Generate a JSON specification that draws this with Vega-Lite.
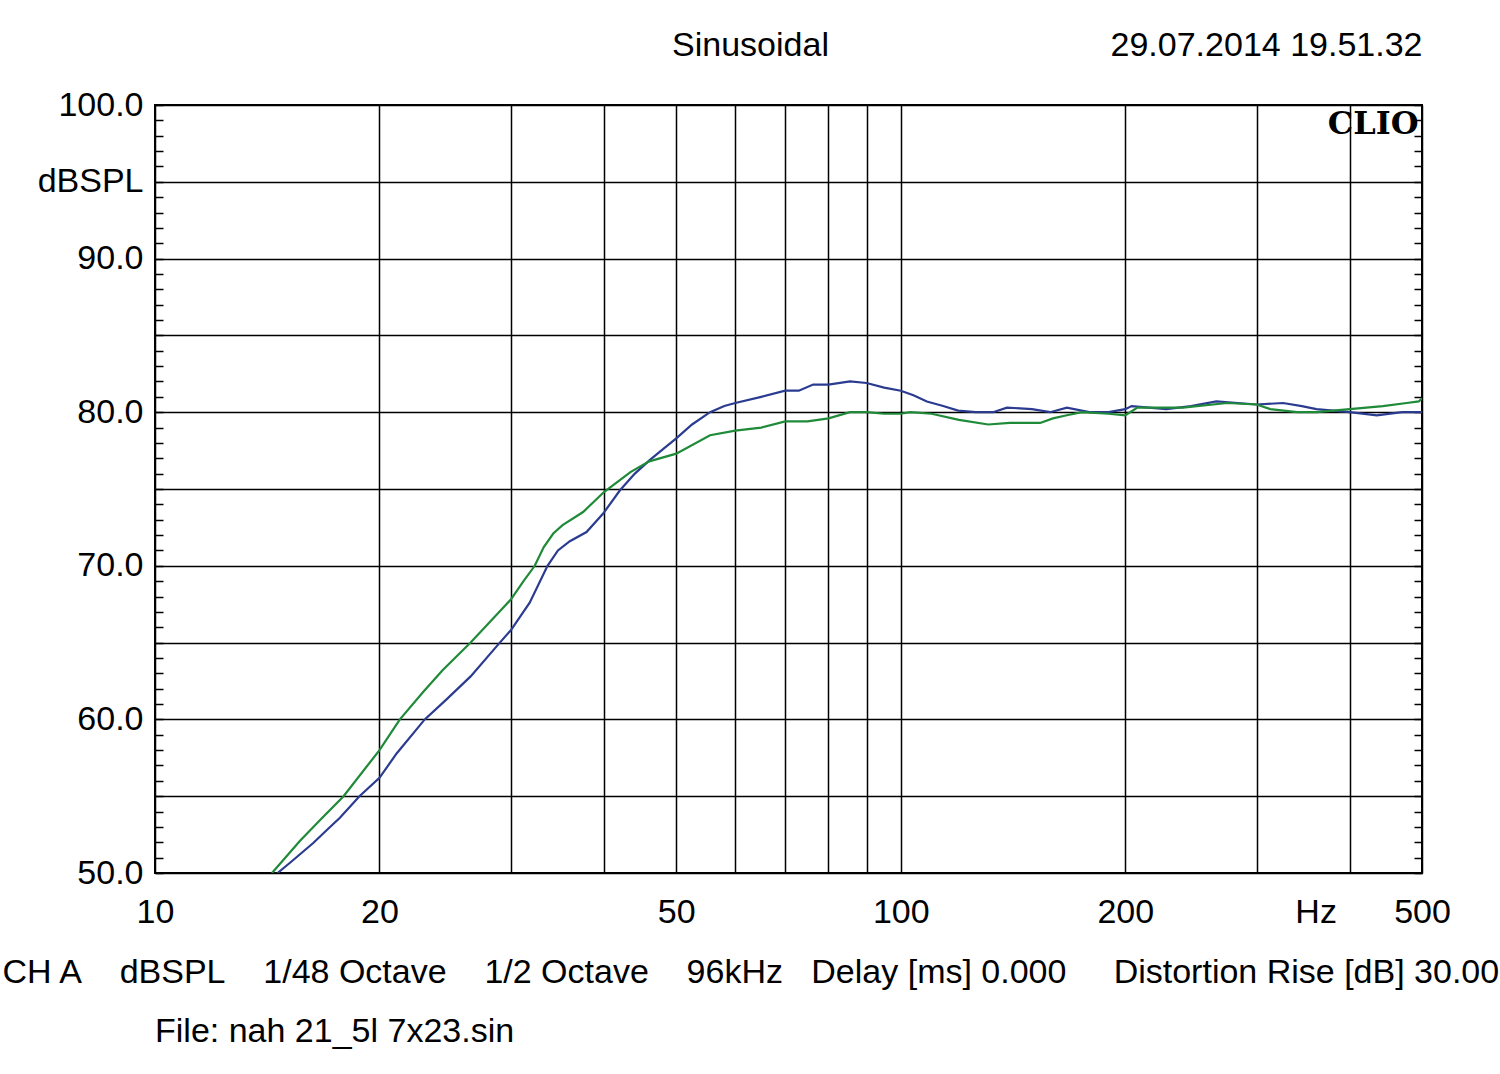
{
  "$schema": "https://vega.github.io/schema/vega-lite/v6.json",
  "width": 1267,
  "height": 768,
  "autosize": {"type": "none"},
  "padding": {"left": 155, "top": 105, "right": 78, "bottom": 201},
  "background": "white",
  "config": {
    "view": {"stroke": "black", "strokeWidth": 2},
    "font": "Liberation Sans",
    "axis": {"labelColor": "black", "titleColor": "black", "labelFont": "Liberation Sans", "titleFont": "Liberation Sans", "titleFontWeight": "normal"}
  },
  "title": {"text": "File: nah 21_5l 7x23.sin", "orient": "bottom", "anchor": "start", "frame": "group", "offset": 26, "fontSize": 34, "fontWeight": "normal", "font": "Liberation Sans", "color": "black"},
  "data": {"values": [
    {"ch": "blue", "f": 14.6, "db": 50.0},
    {"ch": "blue", "f": 15.2, "db": 50.7},
    {"ch": "blue", "f": 16.3, "db": 51.95},
    {"ch": "blue", "f": 17.0, "db": 52.8},
    {"ch": "blue", "f": 17.7, "db": 53.6},
    {"ch": "blue", "f": 18.8, "db": 55.0},
    {"ch": "blue", "f": 20.0, "db": 56.2},
    {"ch": "blue", "f": 21.1, "db": 57.8},
    {"ch": "blue", "f": 23.0, "db": 60.0},
    {"ch": "blue", "f": 24.6, "db": 61.3},
    {"ch": "blue", "f": 26.5, "db": 62.8},
    {"ch": "blue", "f": 29.0, "db": 65.0},
    {"ch": "blue", "f": 30.0, "db": 65.8},
    {"ch": "blue", "f": 31.8, "db": 67.6},
    {"ch": "blue", "f": 33.6, "db": 70.0},
    {"ch": "blue", "f": 34.7, "db": 71.0},
    {"ch": "blue", "f": 36.0, "db": 71.6},
    {"ch": "blue", "f": 37.9, "db": 72.2},
    {"ch": "blue", "f": 39.9, "db": 73.4},
    {"ch": "blue", "f": 42.0, "db": 74.9},
    {"ch": "blue", "f": 44.0, "db": 76.0},
    {"ch": "blue", "f": 46.1, "db": 76.9},
    {"ch": "blue", "f": 48.0, "db": 77.6},
    {"ch": "blue", "f": 50.0, "db": 78.3},
    {"ch": "blue", "f": 52.5, "db": 79.2},
    {"ch": "blue", "f": 55.5, "db": 80.0},
    {"ch": "blue", "f": 58.0, "db": 80.4},
    {"ch": "blue", "f": 60.0, "db": 80.6},
    {"ch": "blue", "f": 65.0, "db": 81.0},
    {"ch": "blue", "f": 70.0, "db": 81.4},
    {"ch": "blue", "f": 73.0, "db": 81.4},
    {"ch": "blue", "f": 76.3, "db": 81.8},
    {"ch": "blue", "f": 80.0, "db": 81.8},
    {"ch": "blue", "f": 85.5, "db": 82.0},
    {"ch": "blue", "f": 90.0, "db": 81.9},
    {"ch": "blue", "f": 95.0, "db": 81.6},
    {"ch": "blue", "f": 100.0, "db": 81.4},
    {"ch": "blue", "f": 104.0, "db": 81.1},
    {"ch": "blue", "f": 108.4, "db": 80.7},
    {"ch": "blue", "f": 114.0, "db": 80.4},
    {"ch": "blue", "f": 119.4, "db": 80.1},
    {"ch": "blue", "f": 126.0, "db": 80.0},
    {"ch": "blue", "f": 133.0, "db": 80.0},
    {"ch": "blue", "f": 138.8, "db": 80.3},
    {"ch": "blue", "f": 150.0, "db": 80.2},
    {"ch": "blue", "f": 158.6, "db": 80.0},
    {"ch": "blue", "f": 167.0, "db": 80.3},
    {"ch": "blue", "f": 179.0, "db": 80.0},
    {"ch": "blue", "f": 190.0, "db": 80.0},
    {"ch": "blue", "f": 200.0, "db": 80.2},
    {"ch": "blue", "f": 204.0, "db": 80.4},
    {"ch": "blue", "f": 227.0, "db": 80.2},
    {"ch": "blue", "f": 245.0, "db": 80.4},
    {"ch": "blue", "f": 265.0, "db": 80.7},
    {"ch": "blue", "f": 300.0, "db": 80.5},
    {"ch": "blue", "f": 325.6, "db": 80.6},
    {"ch": "blue", "f": 345.0, "db": 80.4},
    {"ch": "blue", "f": 361.0, "db": 80.2},
    {"ch": "blue", "f": 400.0, "db": 80.0},
    {"ch": "blue", "f": 435.0, "db": 79.8},
    {"ch": "blue", "f": 470.0, "db": 80.0},
    {"ch": "blue", "f": 500.0, "db": 80.0},
    {"ch": "green", "f": 14.35, "db": 50.0},
    {"ch": "green", "f": 15.65, "db": 52.1},
    {"ch": "green", "f": 16.65, "db": 53.45},
    {"ch": "green", "f": 17.9, "db": 55.0},
    {"ch": "green", "f": 20.0, "db": 58.0},
    {"ch": "green", "f": 21.3, "db": 60.0},
    {"ch": "green", "f": 22.9, "db": 61.8},
    {"ch": "green", "f": 24.3, "db": 63.2},
    {"ch": "green", "f": 26.5, "db": 65.0},
    {"ch": "green", "f": 28.2, "db": 66.4},
    {"ch": "green", "f": 30.0, "db": 67.8},
    {"ch": "green", "f": 31.2, "db": 69.0},
    {"ch": "green", "f": 32.3, "db": 70.0},
    {"ch": "green", "f": 33.2, "db": 71.2},
    {"ch": "green", "f": 34.2, "db": 72.1},
    {"ch": "green", "f": 35.2, "db": 72.65},
    {"ch": "green", "f": 37.5, "db": 73.5},
    {"ch": "green", "f": 40.0, "db": 74.8},
    {"ch": "green", "f": 43.4, "db": 76.1},
    {"ch": "green", "f": 46.0, "db": 76.8},
    {"ch": "green", "f": 50.0, "db": 77.3},
    {"ch": "green", "f": 55.5, "db": 78.5},
    {"ch": "green", "f": 60.0, "db": 78.8},
    {"ch": "green", "f": 65.0, "db": 79.0},
    {"ch": "green", "f": 70.0, "db": 79.4},
    {"ch": "green", "f": 75.0, "db": 79.4},
    {"ch": "green", "f": 80.0, "db": 79.6},
    {"ch": "green", "f": 85.5, "db": 80.0},
    {"ch": "green", "f": 90.0, "db": 80.0},
    {"ch": "green", "f": 95.0, "db": 79.9},
    {"ch": "green", "f": 100.0, "db": 79.9},
    {"ch": "green", "f": 103.0, "db": 80.0},
    {"ch": "green", "f": 110.0, "db": 79.9},
    {"ch": "green", "f": 119.7, "db": 79.5},
    {"ch": "green", "f": 131.0, "db": 79.2},
    {"ch": "green", "f": 140.0, "db": 79.3},
    {"ch": "green", "f": 153.8, "db": 79.3},
    {"ch": "green", "f": 160.0, "db": 79.6},
    {"ch": "green", "f": 167.0, "db": 79.8},
    {"ch": "green", "f": 175.0, "db": 80.0},
    {"ch": "green", "f": 190.0, "db": 79.9},
    {"ch": "green", "f": 200.0, "db": 79.8},
    {"ch": "green", "f": 207.7, "db": 80.3},
    {"ch": "green", "f": 239.0, "db": 80.3},
    {"ch": "green", "f": 274.0, "db": 80.6},
    {"ch": "green", "f": 300.0, "db": 80.5},
    {"ch": "green", "f": 313.0, "db": 80.2},
    {"ch": "green", "f": 340.0, "db": 80.0},
    {"ch": "green", "f": 361.0, "db": 80.0},
    {"ch": "green", "f": 400.0, "db": 80.2},
    {"ch": "green", "f": 443.0, "db": 80.4},
    {"ch": "green", "f": 477.0, "db": 80.6},
    {"ch": "green", "f": 495.0, "db": 80.7},
    {"ch": "green", "f": 500.0, "db": 80.9}
  ]},
  "layer": [
    {
      "transform": [{"filter": "datum.ch === 'blue'"}],
      "mark": {"type": "line", "color": "#2b3c90", "strokeWidth": 2.2, "clip": true},
      "encoding": {
        "x": {
          "field": "f", "type": "quantitative",
          "scale": {"type": "log", "domain": [10, 500], "nice": false},
          "axis": {
            "orient": "bottom",
            "values": [10, 20, 30, 40, 50, 60, 70, 80, 90, 100, 200, 300, 360, 400, 500],
            "labelExpr": "datum.value == 360 ? 'Hz' : (indexof([10, 20, 50, 100, 200, 500], datum.value) >= 0 ? format(datum.value, 'd') : '')",
            "ticks": false,
            "domain": false,
            "grid": true,
            "gridColor": "black",
            "gridWidth": 1.5,
            "gridOpacity": {"condition": {"test": "datum.value == 360", "value": 0}, "value": 1},
            "labelFontSize": 34,
            "labelPadding": 22,
            "labelFlush": false,
            "labelOverlap": false,
            "labelBound": false,
            "title": "CH A\u00a0\u00a0\u00a0\u00a0dBSPL\u00a0\u00a0\u00a0\u00a01/48 Octave\u00a0\u00a0\u00a0\u00a01/2 Octave\u00a0\u00a0\u00a0\u00a096kHz\u00a0\u00a0\u00a0Delay [ms] 0.000\u00a0\u00a0\u00a0\u00a0\u00a0Distortion Rise [dB] 30.00",
            "titleX": -153,
            "titleY": 99,
            "titleAlign": "left",
            "titleBaseline": "middle",
            "titleFontSize": 34
          }
        },
        "y": {
          "field": "db", "type": "quantitative",
          "scale": {"domain": [50, 100], "nice": false, "zero": false},
          "axis": {
            "orient": "left",
            "values": [50, 51, 52, 53, 54, 55, 56, 57, 58, 59, 60, 61, 62, 63, 64, 65, 66, 67, 68, 69, 70, 71, 72, 73, 74, 75, 76, 77, 78, 79, 80, 81, 82, 83, 84, 85, 86, 87, 88, 89, 90, 91, 92, 93, 94, 95, 96, 97, 98, 99, 100],
            "labelExpr": "datum.value == 95 ? 'dBSPL' : (datum.value % 10 == 0 ? format(datum.value, '.1f') : '')",
            "tickSize": -8,
            "tickColor": "black",
            "tickWidth": 1.5,
            "domain": false,
            "grid": true,
            "gridColor": "black",
            "gridWidth": 1.5,
            "gridOpacity": {"condition": {"test": "datum.value % 5 != 0", "value": 0}, "value": 1},
            "labelFontSize": 34,
            "labelPadding": 20,
            "labelFlush": false,
            "labelOverlap": false,
            "labelBound": false,
            "title": "CLIO",
            "titleAngle": 0,
            "titleX": 1263,
            "titleY": 18,
            "titleAlign": "right",
            "titleBaseline": "middle",
            "titleFont": "DejaVu Serif",
            "titleFontWeight": "bold",
            "titleFontSize": 32
          }
        }
      }
    },
    {
      "transform": [{"filter": "datum.ch === 'green'"}],
      "mark": {"type": "line", "color": "#1f8a38", "strokeWidth": 2.2, "clip": true},
      "encoding": {
        "x": {
          "field": "f", "type": "quantitative",
          "scale": {"type": "log", "domain": [10, 500], "nice": false},
          "axis": {
            "orient": "top",
            "ticks": false,
            "labels": false,
            "domain": false,
            "grid": false,
            "title": "Sinusoidal",
            "titleX": 595,
            "titleY": -60,
            "titleAlign": "center",
            "titleBaseline": "middle",
            "titleFontSize": 34
          }
        },
        "y": {
          "field": "db", "type": "quantitative",
          "scale": {"domain": [50, 100], "nice": false, "zero": false},
          "axis": {
            "orient": "right",
            "values": [50, 51, 52, 53, 54, 55, 56, 57, 58, 59, 60, 61, 62, 63, 64, 65, 66, 67, 68, 69, 70, 71, 72, 73, 74, 75, 76, 77, 78, 79, 80, 81, 82, 83, 84, 85, 86, 87, 88, 89, 90, 91, 92, 93, 94, 95, 96, 97, 98, 99, 100],
            "tickSize": -8,
            "tickColor": "black",
            "tickWidth": 1.5,
            "labels": false,
            "domain": false,
            "grid": false,
            "title": "29.07.2014 19.51.32",
            "titleAngle": 0,
            "titleX": 0,
            "titleY": -60,
            "titleAlign": "right",
            "titleBaseline": "middle",
            "titleFontSize": 34
          }
        }
      }
    }
  ],
  "resolve": {"axis": {"x": "independent", "y": "independent"}}
}
